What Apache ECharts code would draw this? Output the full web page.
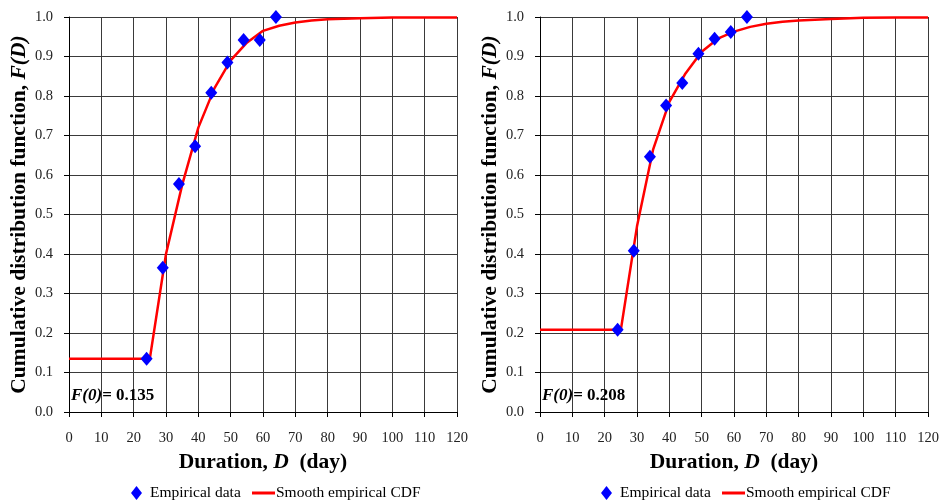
<!DOCTYPE html>
<html>
<head>
<meta charset="utf-8">
<script src="https://cdn.jsdelivr.net/npm/echarts@6/dist/echarts.min.js"></script>
<style>
  html, body { margin: 0; padding: 0; background: #fff; }
  #chart { width: 942px; height: 501px; }
</style>
</head>
<body>
<div id="chart"></div>
<script>
// Empirical points (days) and the two fitted CDF curves
const durationDays = [24, 29, 34, 39, 44, 49, 54, 59, 64];
const empiricalLeft = [0.135, 0.365, 0.577, 0.673, 0.808, 0.885, 0.942, 0.942, 1.0];
const empiricalRight = [0.208, 0.408, 0.646, 0.776, 0.833, 0.907, 0.945, 0.962, 1.0];

const smoothDays = [0, 25, 30, 35, 40, 45, 50, 55, 60, 65, 70, 75, 80, 90, 100, 110, 120];
const smoothLeft = [0.135, 0.135, 0.40, 0.575, 0.72, 0.82, 0.89, 0.935, 0.965, 0.978, 0.986, 0.991, 0.994, 0.997, 0.999, 0.999, 0.999];
const smoothRight = [0.208, 0.208, 0.47, 0.665, 0.785, 0.857, 0.912, 0.945, 0.963, 0.975, 0.983, 0.988, 0.991, 0.995, 0.998, 0.999, 0.999];

const f0Labels = ['0.135', '0.208'];
const legendNames = ['Empirical data', 'Smooth empirical CDF'];

const serif = '"Liberation Serif", "DejaVu Serif", serif';

function pairs(xs, ys) {
    return xs.map((x, i) => [x, ys[i]]);
}

const chart = echarts.init(document.getElementById('chart'));

const nameStyle = {
    fontFamily: serif, fontSize: 21.5, fontWeight: 'bold', color: '#000',
    rich: { i: { fontFamily: serif, fontSize: 21.5, fontWeight: 'bold', fontStyle: 'italic', color: '#000' } }
};

function xAxisFor(gridIndex) {
    return {
        gridIndex: gridIndex,
        type: 'value',
        min: 0,
        max: 120,
        interval: 10,
        name: 'Duration, {i|D}  (day)',
        nameLocation: 'middle',
        nameGap: 39,
        nameTextStyle: nameStyle,
        axisLine: { show: true, lineStyle: { color: '#000', width: 1 } },
        axisTick: { show: true, length: 5, lineStyle: { color: '#000' } },
        axisLabel: { fontFamily: serif, fontSize: 14.5, color: '#222', margin: 19 },
        splitLine: { show: true, lineStyle: { color: '#3a3a3a', width: 1 } }
    };
}

function yAxisFor(gridIndex) {
    return {
        gridIndex: gridIndex,
        type: 'value',
        min: 0,
        max: 1,
        interval: 0.1,
        name: 'Cumulative distribution function, {i|F(D)}',
        nameLocation: 'middle',
        nameGap: 39,
        nameTextStyle: nameStyle,
        axisLine: { show: true, lineStyle: { color: '#000', width: 1 } },
        axisTick: { show: true, length: 5, lineStyle: { color: '#000' } },
        axisLabel: {
            fontFamily: serif, fontSize: 14.5, color: '#222', margin: 16,
            formatter: v => v.toFixed(1)
        },
        splitLine: { show: true, lineStyle: { color: '#3a3a3a', width: 1 } }
    };
}

function seriesFor(idx, points, curve) {
    return [
        {
            name: legendNames[1],
            type: 'line',
            xAxisIndex: idx,
            yAxisIndex: idx,
            data: pairs(smoothDays, curve),
            symbol: 'none',
            lineStyle: { color: '#ff0000', width: 2.5 },
            itemStyle: { color: '#ff0000' },
            emphasis: { disabled: true },
            z: 2
        },
        {
            name: legendNames[0],
            type: 'scatter',
            xAxisIndex: idx,
            yAxisIndex: idx,
            data: pairs(durationDays, points),
            symbol: 'diamond',
            symbolSize: [12, 14],
            itemStyle: { color: '#0000ff', opacity: 1 },
            emphasis: { disabled: true },
            z: 3
        }
    ];
}

const legendText = { fontFamily: serif, fontSize: 15.5, color: '#000' };

// one legend per item so each icon can have its own size
function legendsFor(offset) {
    return [
        {
            left: 126 + offset,
            top: 480,
            itemWidth: 11,
            itemHeight: 14,
            textStyle: Object.assign({ padding: [0, 0, 0, 3] }, legendText),
            data: [{ name: legendNames[0], icon: 'diamond' }]
        },
        {
            left: 247 + offset,
            top: 480,
            itemWidth: 23,
            itemHeight: 3,
            itemStyle: { color: '#ff0000' },
            textStyle: Object.assign({ padding: [0, 0, 0, -4] }, legendText),
            data: [{ name: legendNames[1], icon: 'rect' }]
        }
    ];
}

function f0Title(left, value) {
    return {
        text: '{i|F(0)}{b|= ' + value + '}',
        left: left,
        top: 382,
        textStyle: {
            rich: {
                i: { fontFamily: serif, fontSize: 17, fontWeight: 'bold', fontStyle: 'italic', color: '#000' },
                b: { fontFamily: serif, fontSize: 17, fontWeight: 'bold', color: '#000' }
            }
        }
    };
}

chart.setOption({
    animation: false,
    backgroundColor: '#fff',
    title: [f0Title(66, f0Labels[0]), f0Title(537, f0Labels[1])],
    legend: [...legendsFor(0), ...legendsFor(470)],
    grid: [
        { left: 69, top: 17, width: 388, height: 395 },
        { left: 540, top: 17, width: 388, height: 395 }
    ],
    xAxis: [xAxisFor(0), xAxisFor(1)],
    yAxis: [yAxisFor(0), yAxisFor(1)],
    series: [
        ...seriesFor(0, empiricalLeft, smoothLeft),
        ...seriesFor(1, empiricalRight, smoothRight)
    ]
});
</script>
</body>
</html>
